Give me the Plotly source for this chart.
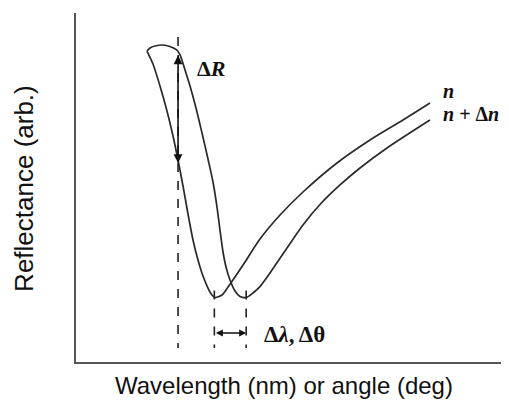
import plotly.graph_objects as go

# Curve for refractive index n (arbitrary units)
x_n = [16.63, 18.03, 19.67, 21.31, 22.72, 23.89, 25.06, 26.23, 27.40, 28.57, 29.74, 30.91, 31.85, 32.55,
       34.19, 35.60, 37.24, 39.58, 43.09, 47.78, 53.16, 61.12, 68.85, 76.58, 82.90]
y_n = [89.11, 85.39, 79.08, 71.92, 64.76, 57.88, 50.43, 42.41, 34.96, 29.23, 24.64, 21.20, 19.20, 18.48,
       19.20, 21.49, 24.36, 28.65, 35.24, 42.12, 48.71, 57.02, 63.61, 69.34, 74.21]

# Curve for n + Δn
x_nd = [16.63, 17.33, 18.50, 20.37, 22.01, 23.58, 24.36, 25.53, 26.70, 28.10, 29.51, 30.91, 32.08, 33.02,
        33.72, 34.43, 35.13, 36.07, 37.24, 38.41, 39.93, 41.45, 43.09, 44.26, 45.43, 49.41, 53.16, 57.14,
        61.83, 66.51, 72.83, 82.90]
y_nd = [89.11, 89.97, 90.54, 90.83, 90.40, 89.40, 87.97, 83.67, 79.08, 72.78, 65.62, 58.17, 51.58, 44.41,
        37.82, 31.52, 27.22, 23.50, 20.34, 18.77, 18.48, 19.77, 21.58, 23.50, 25.50, 32.66, 39.26, 45.13,
        50.72, 55.59, 61.32, 69.34]

# Guides and arrows
x_dR = 23.9           # ΔR guide line
y_dR_top = 88.3
y_dR_bottom = 57.0
x_dip_n = 32.4        # dip of n
x_dip_nd = 39.85      # dip of n + Δn
y_dip_guide_top = 20.5
y_guide_top = 93.1
y_guide_bottom = 4.0
y_shift_arrow = 8.3

label_dR = "<b>Δ<i>R</i></b>"
label_n = "<b><i>n</i></b>"
label_nd = "<b><i>n</i> + Δ<i>n</i></b>"
label_shift = "<b>Δ<i>λ</i>, Δθ</b>"
x_title = "Wavelength (nm) or angle (deg)"
y_title = "Reflectance (arb.)"

line_color = "#2a2a2a"
fig = go.Figure()
fig.add_trace(go.Scatter(x=x_n, y=y_n, mode="lines",
                         line=dict(color=line_color, width=1.7, shape="spline", smoothing=0.8), hoverinfo="skip"))
fig.add_trace(go.Scatter(x=x_nd, y=y_nd, mode="lines",
                         line=dict(color=line_color, width=1.7, shape="spline", smoothing=0.8), hoverinfo="skip"))

dash_style = dict(color="#222222", width=1.6, dash="dash")
fig.add_shape(type="line", x0=x_dR, x1=x_dR, y0=y_guide_top, y1=y_guide_bottom, line=dash_style)
fig.add_shape(type="line", x0=x_dip_n, x1=x_dip_n, y0=y_dip_guide_top, y1=y_guide_bottom, line=dash_style)
fig.add_shape(type="line", x0=x_dip_nd, x1=x_dip_nd, y0=y_dip_guide_top, y1=y_guide_bottom, line=dash_style)

fig.add_annotation(x=x_dR, y=y_dR_bottom, ax=x_dR, ay=y_dR_top, axref="x", ayref="y", xref="x", yref="y",
                   showarrow=True, arrowhead=2, arrowside="end+start", arrowsize=1.1, arrowwidth=1.6,
                   arrowcolor="#111111", text="")
fig.add_annotation(x=x_dip_nd, y=y_shift_arrow, ax=x_dip_n, ay=y_shift_arrow, axref="x", ayref="y",
                   xref="x", yref="y", showarrow=True, arrowhead=2, arrowside="end+start", arrowsize=1.0,
                   arrowwidth=1.4, arrowcolor="#111111", text="")

serif = "Liberation Serif, Times New Roman, serif"
fig.add_annotation(x=27.9, y=84.2, text=label_dR, showarrow=False, xanchor="left", yanchor="middle",
                   font=dict(family=serif, size=22, color="#111111"))
fig.add_annotation(x=85.5, y=77.6, text=label_n, showarrow=False, xanchor="left", yanchor="middle",
                   font=dict(family=serif, size=20, color="#111111"))
fig.add_annotation(x=85.5, y=71.0, text=label_nd, showarrow=False, xanchor="left", yanchor="middle",
                   font=dict(family=serif, size=20, color="#111111"))
fig.add_annotation(x=43.6, y=8.0, text=label_shift, showarrow=False, xanchor="left", yanchor="middle",
                   font=dict(family=serif, size=23, color="#111111"))

sans = "Liberation Sans, Arial, sans-serif"
fig.add_annotation(x=0.487, y=-0.066, xref="paper", yref="paper", text=x_title, showarrow=False,
                   xanchor="center", yanchor="middle", font=dict(family=sans, size=24, color="#111111"))
fig.add_annotation(x=-0.122, y=0.4986, xref="paper", yref="paper", text=y_title, showarrow=False,
                   textangle=-90, xanchor="center", yanchor="middle",
                   font=dict(family=sans, size=26, color="#111111"))

axis_common = dict(showgrid=False, zeroline=False, showticklabels=False, ticks="", showline=True,
                   linecolor="#555555", linewidth=1.8, range=[0, 100], fixedrange=True)
fig.update_xaxes(**axis_common)
fig.update_yaxes(**axis_common)
# the page body adds an 8px margin; the figure is sized so the whole picture fits the 509x402 window
fig.update_layout(width=501, height=394, margin=dict(l=68, r=6, t=5, b=40),
                  plot_bgcolor="white", paper_bgcolor="white", showlegend=False)
fig.write_html("out.html")
